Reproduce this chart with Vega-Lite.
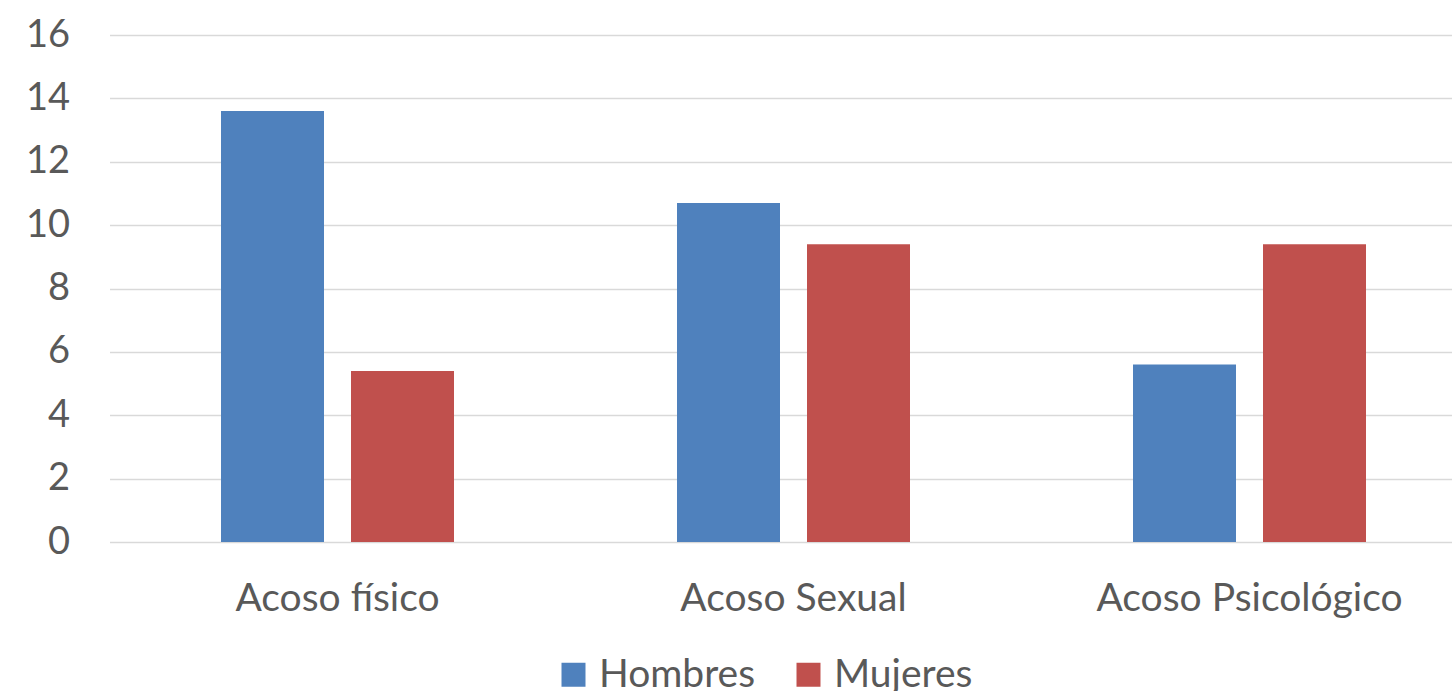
{
  "$schema": "https://vega.github.io/schema/vega-lite/v6.json",
  "autosize": "none",
  "padding": {"left": 109.5, "top": 35, "right": 0, "bottom": 149},
  "width": 1342.5,
  "height": 507,
  "background": "white",
  "config": {
    "view": {"stroke": null},
    "font": "Lato"
  },
  "data": {
    "values": [
      {"categoria": "Acoso físico", "sexo": "Hombres", "valor": 13.6},
      {"categoria": "Acoso físico", "sexo": "Mujeres", "valor": 5.4},
      {"categoria": "Acoso Sexual", "sexo": "Hombres", "valor": 10.7},
      {"categoria": "Acoso Sexual", "sexo": "Mujeres", "valor": 9.4},
      {"categoria": "Acoso Psicológico", "sexo": "Hombres", "valor": 5.6},
      {"categoria": "Acoso Psicológico", "sexo": "Mujeres", "valor": 9.4}
    ]
  },
  "mark": {"type": "bar"},
  "encoding": {
    "x": {
      "field": "categoria",
      "type": "nominal",
      "sort": ["Acoso físico", "Acoso Sexual", "Acoso Psicológico"],
      "scale": {"range": [0, 1368], "paddingInner": 0, "paddingOuter": 0},
      "axis": {
        "title": null,
        "labelAngle": 0,
        "labelFont": "Lato",
        "labelFontSize": 39,
        "labelColor": "#595959",
        "labelPadding": 37,
        "labelLimit": 0,
        "ticks": false,
        "domain": false,
        "grid": false
      }
    },
    "xOffset": {
      "field": "sexo",
      "type": "nominal",
      "sort": ["Hombres", "Mujeres"],
      "scale": {"paddingInner": 0.2077, "paddingOuter": 0.8577}
    },
    "y": {
      "field": "valor",
      "type": "quantitative",
      "scale": {"domain": [0, 16], "nice": false},
      "axis": {
        "title": null,
        "values": [0, 2, 4, 6, 8, 10, 12, 14, 16],
        "labelFont": "Lato",
        "labelFontSize": 38,
        "labelColor": "#595959",
        "labelPadding": 40,
        "ticks": false,
        "domain": false,
        "grid": true,
        "gridColor": "#D9D9D9",
        "gridWidth": 1.5
      }
    },
    "color": {
      "field": "sexo",
      "type": "nominal",
      "sort": ["Hombres", "Mujeres"],
      "scale": {"domain": ["Hombres", "Mujeres"], "range": ["#4F81BD", "#C0504D"]},
      "legend": {
        "title": null,
        "orient": "none",
        "direction": "horizontal",
        "legendX": 444.5,
        "legendY": 620,
        "padding": 0,
        "symbolType": "square",
        "symbolSize": 576,
        "symbolStrokeWidth": 0,
        "symbolOpacity": 1,
        "labelFont": "Lato",
        "labelFontSize": 39,
        "labelColor": "#595959",
        "labelOffset": 6,
        "columnPadding": 33
      }
    }
  }
}
